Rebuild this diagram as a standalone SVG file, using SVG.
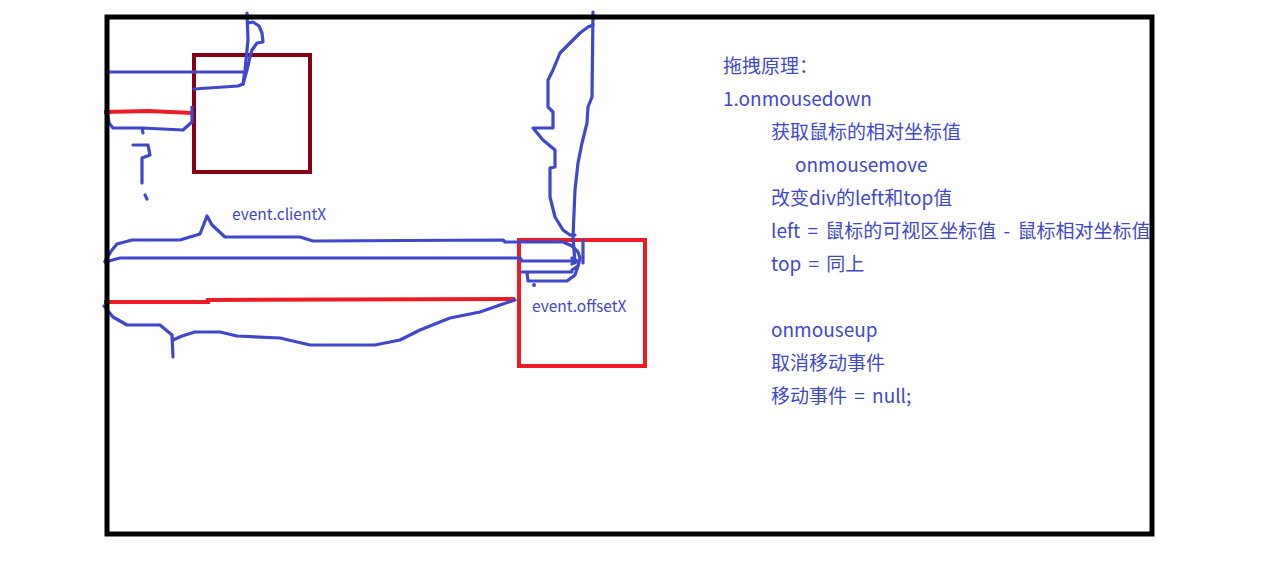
<svg xmlns="http://www.w3.org/2000/svg" width="1274" height="571" viewBox="0 0 1274 571">
<style>
.b{fill:none;stroke:#3F48CC;stroke-width:3.2;stroke-linejoin:round;stroke-linecap:round}
.r{fill:none;stroke:#ED1C24;stroke-width:4}
.t{font-family:"Noto Sans CJK SC","Noto Sans",sans-serif;font-size:19px;fill:#3F48CC;word-spacing:3px}
.s{font-family:"Noto Sans CJK SC","Noto Sans",sans-serif;font-size:15.5px;fill:#3F48CC}
</style>
<rect width="1274" height="571" fill="#fff"/>
<g id="box-small">
<rect x="194" y="55" width="116" height="117" fill="none" stroke="#880015" stroke-width="4"/>
</g>
<g id="box-red">
<rect x="519" y="240" width="126" height="126" fill="none" stroke="#ED1C24" stroke-width="4"/>
<text class="s" x="532" y="312">event.offsetX</text>
</g>
<g id="connectors">
<path class="b" d="M108,72 L243,72"/>
<path class="b" d="M194,89 L238,86 L243,84 L245,70 L248,40 L247,13"/>
<path class="b" d="M243,84 L247,70 L250,57 L252,50 L257,43 L263,42 L262,33 L259,26 L253,22 L248,23"/>
<path class="r" d="M104,112 L148,111 L193,113"/>
<path class="b" d="M107,110 L109,123 L113,128 L142,128 L143,133 M142,128 L183,130 L192,122 L192,107"/>
<path class="b" d="M133,145 L148,145 L150,155 L142,158 L142,183"/>
<path class="b" d="M145,195 L147,199"/>
<path class="b" d="M105,261 L112,250 L117,244 L132,240 L180,240 L200,234 L207,216 L212,225 L225,237 L300,237 L313,241 L503,240 L505,242 L563,242 L572,246 L578,252 L580,258 L578,266 L572,270"/>
<path class="b" d="M105,262 L120,258 L520,258 L522,261 L577,261 L572,258 M577,261 L572,264"/>
<path class="b" d="M522,272 L572,272 M527,272 L528,281 L567,281 L575,275 L578,266"/>
<circle cx="534" cy="285" r="2" fill="#3F48CC"/>
<path class="b" d="M583,240 L583,263"/>
<path class="b" d="M593,12 L592,97 L588,107 L587,123 L582,143 L578,163 L575,190 L573,237 L575,263"/>
<path class="b" d="M593,25 L588,27 L580,33 L570,43 L560,53 L553,70 L548,80 L548,107 L553,112 L553,128 L533,128 L543,140 L555,150 L555,167 L550,168 L550,197 L555,217 L563,230 L570,235 L575,235"/>
<path class="r" d="M104,302 L208,302 L208,300 L515,299"/>
<path class="b" d="M104,306 L113,317 L127,325 L160,325 L172,335 L173,357 M173,340 L182,336 L195,332 L220,332 L237,336 L280,338 L310,345 L375,345 L400,340 L420,330 L450,318 L480,312 L500,305 L515,300"/>
</g>
<g id="labels">
<text class="s" x="232" y="220">event.clientX</text>
<text class="t" x="723" y="73">拖拽原理：</text>
<text class="t" x="723" y="106">1.onmousedown</text>
<text class="t" x="771" y="139">获取鼠标的相对坐标值</text>
<text class="t" x="795" y="172">onmousemove</text>
<text class="t" x="771" y="205">改变div的left和top值</text>
<text class="t" x="771" y="238">left = 鼠标的可视区坐标值 - 鼠标相对坐标值</text>
<text class="t" x="771" y="271">top = 同上</text>
<text class="t" x="771" y="337">onmouseup</text>
<text class="t" x="771" y="370">取消移动事件</text>
<text class="t" x="771" y="403">移动事件 = null;</text>
</g>
<g id="frame">
<rect x="107" y="17" width="1045" height="517" fill="none" stroke="#000" stroke-width="5"/>
</g>
</svg>
